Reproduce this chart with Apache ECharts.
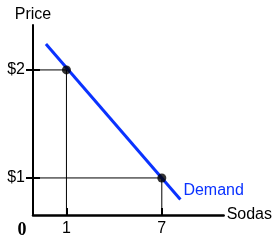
<!DOCTYPE html>
<html>
<head>
<meta charset="utf-8">
<script src="https://cdn.jsdelivr.net/npm/echarts@6/dist/echarts.min.js"></script>
<style>html,body{margin:0;padding:0;background:#fff;}#c{width:275px;height:245px;}</style>
</head>
<body>
<div id="c"></div>
<script>
var quantityTicks = [1, 7];
var quantityTickLabels = ['1', '7'];
var priceTicks = [1, 2];
var priceTickLabels = ['$1', '$2'];
var pointQuantity = [1, 7];
var pointPrice = [2, 1];
var demandQuantity = [-0.29, 8.17];
var demandPrice = [2.24, 0.80];
var xMin = -1.104, xMax = 10.89;
var yMin = 0.657, yMax = 2.416;

var font = 'Liberation Sans, Arial, sans-serif';
var chart = echarts.init(document.getElementById('c'), null, {renderer: 'canvas'});

var guideSeries = pointQuantity.map(function (q, i) {
  return {
    type: 'line', silent: true, symbol: 'none', animation: false,
    lineStyle: {color: '#000', width: 1},
    data: [[xMin, pointPrice[i]], [q, pointPrice[i]], [q, yMin]],
    z: 1
  };
});

var xLabelValues = [xMin].concat(quantityTicks);
function xLabel(v) {
  if (Math.abs(v - xMin) < 1e-6) return '{z|0}';
  var i = quantityTicks.indexOf(v);
  return i >= 0 ? quantityTickLabels[i] : '';
}
function yLabel(v) {
  var i = priceTicks.indexOf(v);
  return i >= 0 ? priceTickLabels[i] : '';
}

chart.setOption({
  animation: false,
  grid: {left: 33, right: 51, top: 25, bottom: 30, containLabel: false},
  xAxis: {
    type: 'value', min: xMin, max: xMax,
    name: 'Sodas', nameLocation: 'end', nameGap: 3,
    nameTextStyle: {color: '#000', fontSize: 16, fontFamily: font, verticalAlign: 'middle'},
    axisLine: {show: true, onZero: false, lineStyle: {color: '#000', width: 2.5}},
    axisTick: {show: true, inside: true, length: 7, customValues: quantityTicks, lineStyle: {color: '#000', width: 2}},
    axisLabel: {
      show: true, customValues: xLabelValues, formatter: xLabel, margin: 6,
      color: '#000', fontSize: 16, fontFamily: font,
      rich: {z: {fontFamily: 'Liberation Serif, Times New Roman, serif', fontWeight: 'bold', fontSize: 18, color: '#000', padding: [0, 22, 0, 0]}}
    },
    splitLine: {show: false}
  },
  yAxis: [{
    type: 'value', min: yMin, max: yMax,
    name: 'Price', nameLocation: 'end', nameGap: 2,
    nameTextStyle: {color: '#000', fontSize: 16, fontFamily: font, align: 'center'},
    axisLine: {show: true, onZero: false, lineStyle: {color: '#000', width: 2}},
    axisTick: {show: true, inside: false, length: 7, customValues: priceTicks, lineStyle: {color: '#000', width: 2}},
    axisLabel: {show: true, customValues: priceTicks, formatter: yLabel, margin: 8, color: '#000', fontSize: 16, fontFamily: font},
    splitLine: {show: false}
  }, {
    type: 'value', min: yMin, max: yMax, position: 'left',
    axisLine: {show: false, onZero: false},
    axisTick: {show: true, inside: true, length: 7, customValues: priceTicks, lineStyle: {color: '#000', width: 2}},
    axisLabel: {show: false},
    splitLine: {show: false}
  }],
  series: guideSeries.concat([
    {
      type: 'line', symbol: 'none', animation: false, z: 2,
      lineStyle: {color: '#0a32ff', width: 3},
      endLabel: {show: true, formatter: 'Demand', distance: 3, offset: [0, -9], color: '#0a32ff', fontSize: 16, fontFamily: font},
      data: [
        [demandQuantity[0], demandPrice[0]],
        [demandQuantity[1], demandPrice[1]]
      ]
    },
    {
      type: 'scatter', symbol: 'circle', symbolSize: 9, z: 3,
      itemStyle: {color: '#000'},
      data: pointQuantity.map(function (q, i) { return [q, pointPrice[i]]; })
    }
  ])
});
</script>
</body>
</html>
